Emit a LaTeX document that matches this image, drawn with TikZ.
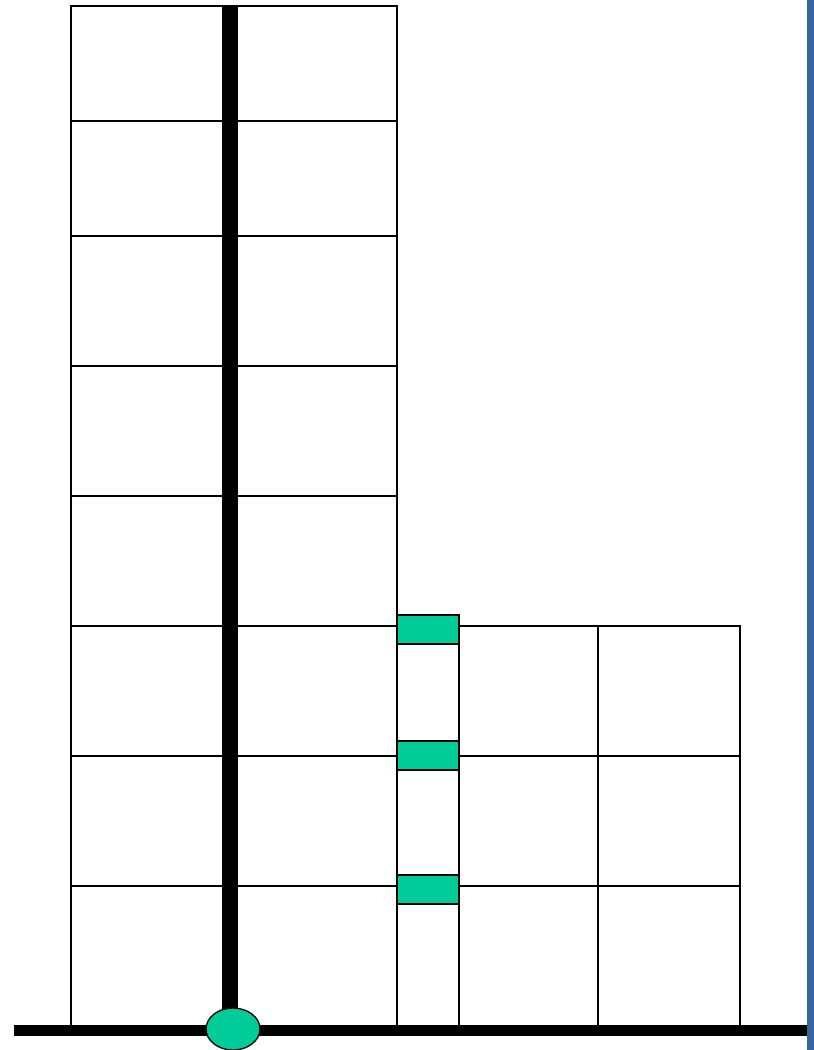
\documentclass[tikz,border=0pt]{standalone}
\usetikzlibrary{shapes.geometric}
\definecolor{tealgreen}{RGB}{0,204,153}
\definecolor{sidebar}{RGB}{52,104,156}
\begin{document}
\begin{tikzpicture}[x=1pt,y=-1pt,
  grid/.style={draw=black,line width=1.5pt},
  joint/.style={draw=black,line width=1.3pt,fill=tealgreen,minimum width=62pt,minimum height=29pt,inner sep=0pt,outer sep=0pt},
  hinge/.style={ellipse,draw=black,line width=1.3pt,fill=tealgreen,minimum width=54pt,minimum height=42pt,inner sep=0pt}]
\useasboundingbox (0,0) rectangle (814,1050);
% tall tower grid
\draw[grid] (71,6) rectangle (397,1030);
\foreach \yy in {121,236,366,496,626,756,886}
  \draw[grid] (71,\yy) -- (397,\yy);
% low building grid
\draw[grid] (397,626) rectangle (740,1030);
\draw[grid] (459,626) -- (459,1030);
\draw[grid] (598,626) -- (598,1030);
\foreach \yy in {756,886}
  \draw[grid] (459,\yy) -- (740,\yy);
% thick vertical column
\fill[black] (222,6) rectangle (238,1020);
% base line
\fill[black] (14,1025) rectangle (807,1036);
% sidebar
\fill[sidebar] (807,0) rectangle (814,1050);
% joints
\node[joint] (j1) at (428,629.5) {};
\node[joint] (j2) at (428,755.5) {};
\node[joint] (j3) at (428,889.5) {};
% hinge
\node[hinge] (h) at (233,1029) {};
\end{tikzpicture}
\end{document}
